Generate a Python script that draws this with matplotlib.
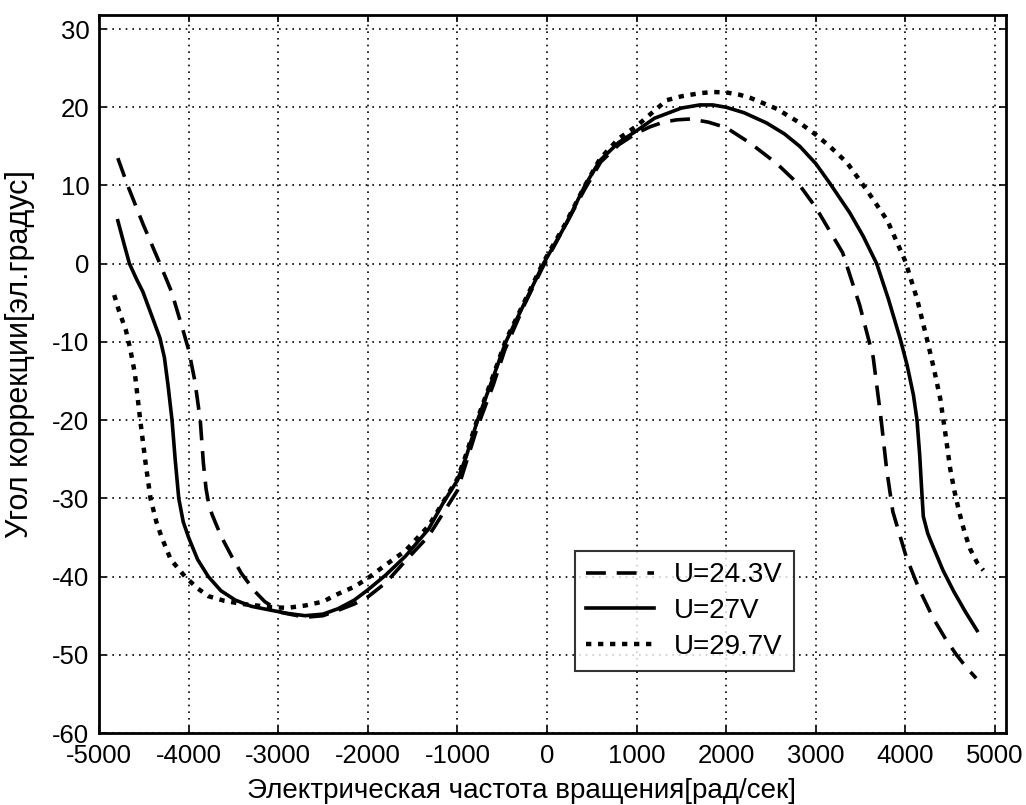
import matplotlib
matplotlib.use("Agg")
import matplotlib.pyplot as plt

plt.rcParams['font.family'] = ['Liberation Sans', 'DejaVu Sans']
plt.rcParams['axes.unicode_minus'] = False

# U = 24.3 V (dashed)
x_243 = [-4790, -4680, -4510, -4320, -4190, -4060, -4000, -3930, -3870, -3835, -3805,
         -3780, -3740, -3690, -3630, -3520, -3410, -3260, -3150, -2960, -2700, -2500,
         -2330, -2150, -2000, -1800, -1580, -1320, -1000, -780, -600, -470, -250, -50,
         200, 420, 600, 800, 1000, 1150, 1300, 1450, 1600, 1800, 2000, 2270, 2565,
         2822, 3000, 3300, 3490, 3640, 3730, 3790, 3860, 4010, 4150, 4310, 4450, 4570,
         4680, 4790]
y_243 = [13.5, 10, 5.1, 0, -3.6, -8.6, -11, -15, -20, -25.5, -28.8,
         -30.4, -32, -33.4, -35, -37.4, -39.6, -41.9, -43.2, -44.6, -45.2, -45.0,
         -44.3, -43.5, -42.6, -40.8, -38, -34.8, -29, -21, -15.5, -11, -5.2, -0.5,
         4.8, 9.5, 13, 15.2, 16.7, 17.5, 18.1, 18.4, 18.5, 18.1, 17.4, 15.4, 12.8,
         10, 7.2, 1.4, -5.3, -11.9, -20, -26.2, -31.7, -37.5, -41.5, -45.3, -48, -50,
         -51.6, -53]

# U = 27 V (solid)
x_27 = [-4790, -4720, -4660, -4580, -4510, -4400, -4320, -4270, -4230, -4185, -4150,
        -4110, -4060, -4000, -3900, -3780, -3640, -3480, -3300, -3080, -2900, -2700,
        -2500, -2330, -2150, -2000, -1800, -1580, -1320, -1160, -1000, -900, -775,
        -600, -460, -250, -40, 200, 424, 591, 800, 1000, 1200, 1500, 1706, 1850, 2000,
        2200, 2450, 2650, 2822, 3000, 3156, 3380, 3530, 3680, 3810, 3940, 4020, 4090,
        4130, 4160, 4180, 4200, 4250, 4310, 4420, 4540, 4670, 4800]
y_27 = [5.5, 2.5, 0, -2.0, -3.6, -7, -9.5, -12, -15.5, -20, -25,
        -30, -33, -35, -37.8, -40, -41.8, -43, -43.8, -44.3, -44.7, -45.0,
        -44.8, -44.1, -43.0, -41.7, -39.8, -37.4, -33.9, -30.6, -27.7, -24.6, -20,
        -14.5, -10, -5.0, 0, 4.8, 10, 13.2, 15.5, 17, 18.6, 19.9, 20.3, 20.3, 20.0,
        19.3, 18, 16.6, 15, 12.8, 10.3, 6.5, 3.5, 0, -4.5, -9.5, -13, -16.8,
        -20, -24.5, -28.5, -32.3, -34.5, -36.2, -39.2, -41.9, -44.5, -46.9]

# U = 29.7 V (dotted)
x_297 = [-4830, -4775, -4700, -4650, -4600, -4540, -4480, -4425, -4360, -4300, -4200,
         -4040, -3900, -3780, -3600, -3400, -3080, -2900, -2700, -2500, -2330, -2150,
         -2000, -1800, -1580, -1320, -1000, -900, -775, -600, -460, -250, -40, 200,
         424, 591, 800, 1000, 1335, 1500, 1706, 1850, 2000, 2150, 2270, 2565, 2822,
         3000, 3156, 3350, 3570, 3800, 4000, 4130, 4240, 4320, 4390, 4450, 4500, 4550,
         4600, 4660, 4720, 4800, 4870]
y_297 = [-4.0, -6.1, -8.5, -11, -14, -20, -25.5, -30, -33, -35, -37.8,
         -40, -41.5, -42.5, -43.1, -43.5, -43.9, -44.0, -43.7, -43.2, -42.2, -41.3,
         -40.2, -38.5, -36.7, -33.5, -27.5, -24.3, -19.8, -14.3, -9.8, -4.8, 0.2, 5.0,
         10, 13.4, 16, 17.6, 20.9, 21.4, 21.8, 21.95, 21.9, 21.6, 21.2, 19.8, 18,
         16.5, 15.0, 12.9, 9.4, 5.5, 0.3, -4.5, -9.6, -13.5, -17.3, -22, -26.2, -29.2,
         -31.7, -34.3, -36.4, -38.2, -39.2]

x_ticks = list(range(-5000, 5001, 1000))
y_ticks = list(range(-60, 31, 10))

fig = plt.figure(figsize=(10.26, 8.05), dpi=100)
ax = fig.add_axes([0.0965, 0.0894, 0.884, 0.892])

ax.plot(x_243, y_243, color='black', lw=2.6, linestyle=(0, (5.5, 3.0)),
        dash_capstyle='butt', label='U=24.3V')
ax.plot(x_27, y_27, color='black', lw=2.6, linestyle='-', label='U=27V')
ax.plot(x_297, y_297, color='black', lw=3.2, linestyle=(0, (1.2, 1.5)),
        dash_capstyle='butt', label='U=29.7V')

ax.set_xlim(-5000, 5123)
ax.set_ylim(-60, 31.8)
ax.set_xticks(x_ticks)
ax.set_yticks(y_ticks)
ax.grid(True, color='black', linestyle=(0, (1, 3)), linewidth=1.2)
ax.tick_params(direction='in', top=True, right=True, length=5, width=1.2,
               labelsize=18.5)
ax.tick_params(axis='x', pad=8)
ax.tick_params(axis='y', pad=7)
for s in ax.spines.values():
    s.set_linewidth(2)

ax.set_xlabel('Электрическая частота вращения[рад/сек]', fontsize=20)
ax.set_ylabel('Угол коррекции[эл.градус]', fontsize=22)
ax.xaxis.set_label_coords(0.466, -0.062)
ax.yaxis.set_label_coords(-0.0705, 0.528)

leg = ax.legend(loc='lower left', bbox_to_anchor=(0.525, 0.0864), fontsize=20,
                frameon=True, fancybox=False, shadow=False, handlelength=2.45,
                borderpad=0.4, labelspacing=0.35, handletextpad=0.7,
                borderaxespad=0)
leg.get_frame().set_edgecolor('black')
leg.get_frame().set_linewidth(1.5)

fig.savefig('out.png', dpi=100)
